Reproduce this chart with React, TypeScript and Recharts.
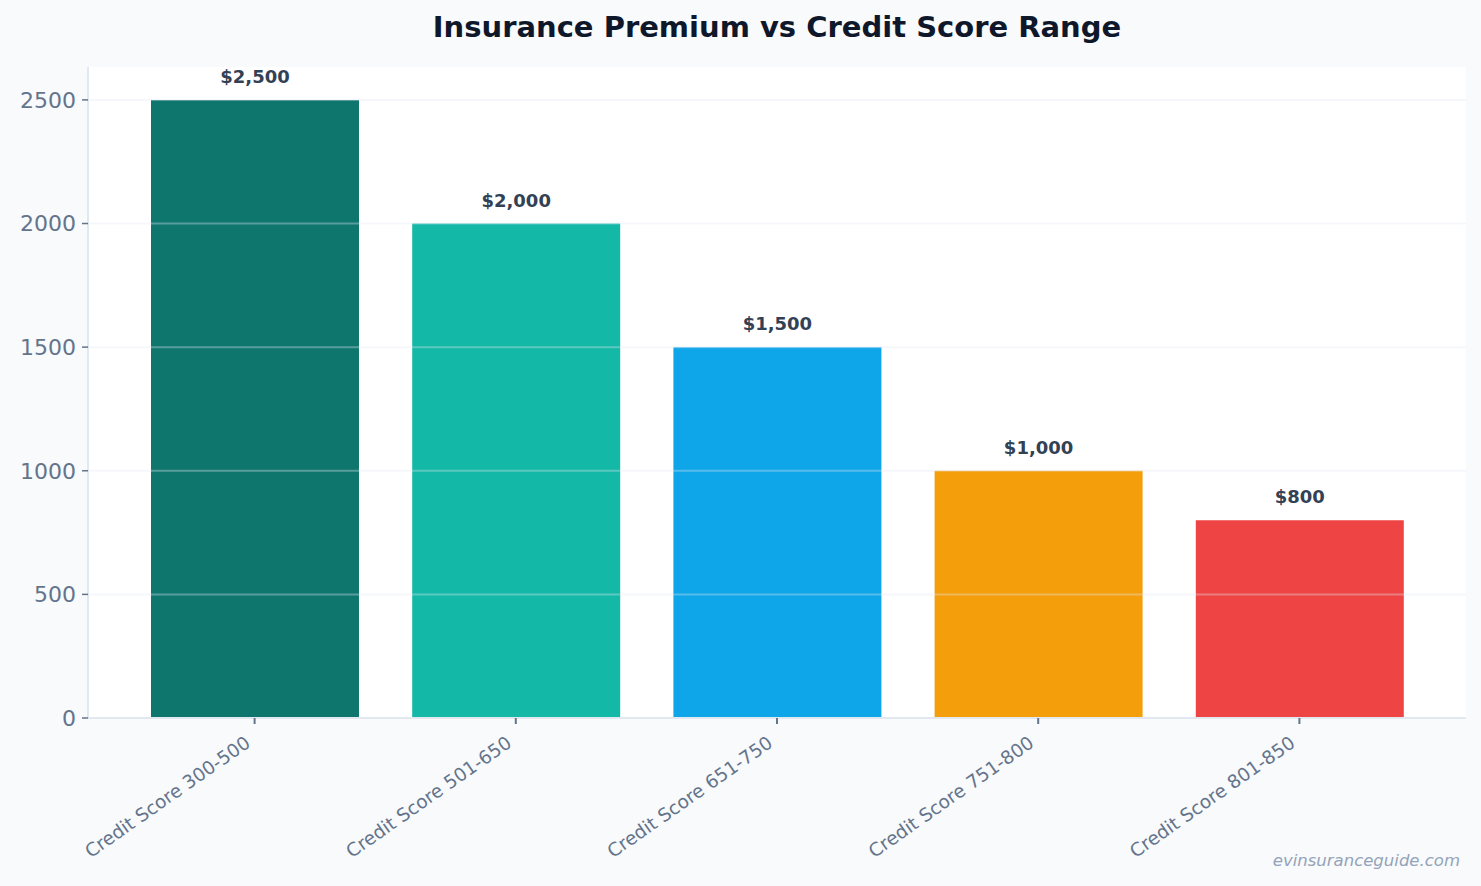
import { BarChart, Bar, XAxis, YAxis, CartesianGrid, Cell, LabelList, ReferenceLine } from 'recharts';

const CATEGORIES = [
  'Credit Score 300-500',
  'Credit Score 501-650',
  'Credit Score 651-750',
  'Credit Score 751-800',
  'Credit Score 801-850',
];
const PREMIUMS = [2500, 2000, 1500, 1000, 800];
const BAR_COLORS = ['#0f766e', '#14b8a6', '#0ea5e9', '#f59e0b', '#ef4444'];
const Y_TICKS = [0, 500, 1000, 1500, 2000, 2500];

const FONT = '"DejaVu Sans", Verdana, sans-serif';

const data = CATEGORIES.map((name, i) => ({ name, value: PREMIUMS[i] }));

const fmtMoney = (v: any) => '$' + Number(v).toLocaleString('en-US');

function XTick({ x, y, payload }: any) {
  return (
    <g transform={`translate(${x - 7},${y + 14})`}>
      <text
        textAnchor="end"
        transform="rotate(-35)"
        fontSize={18.5}
        fill="#64748b"
        fontFamily={FONT}
        dy={7}
      >
        {payload.value}
      </text>
    </g>
  );
}

export default function App() {
  return (
    <div style={{ width: 1481, height: 886, background: '#f8fafc', position: 'relative', fontFamily: FONT }}>
      <style>{`body{margin:0}`}</style>
      <div
        style={{
          position: 'absolute',
          left: 88,
          width: 1378,
          top: 9,
          textAlign: 'center',
          fontSize: 29,
          fontWeight: 'bold',
          color: '#0f172a',
          lineHeight: '36px',
        }}
      >
        Insurance Premium vs Credit Score Range
      </div>
      <BarChart
        width={1481}
        height={886}
        data={data}
        margin={{ top: 67, right: 15, bottom: 0, left: 0 }}
      >
        <CartesianGrid fill="#ffffff" stroke="none" />
        <XAxis
          dataKey="name"
          height={168}
          interval={0}
          padding={{ left: 36, right: 36 }}
          axisLine={{ stroke: '#e2e8f0', strokeWidth: 2 }}
          tickLine={{ stroke: '#64748b', strokeWidth: 2 }}
          tickSize={6}
          tick={<XTick />}
        />
        <YAxis
          width={88}
          domain={[0, 2633]}
          ticks={Y_TICKS}
          allowDataOverflow
          axisLine={{ stroke: '#e2e8f0', strokeWidth: 2 }}
          tickLine={{ stroke: '#64748b', strokeWidth: 1.5 }}
          tickSize={6}
          tickMargin={6}
          tick={{ fontSize: 22, fill: '#64748b', fontFamily: FONT }}
        />
        <Bar dataKey="value" barSize={208} isAnimationActive={false}>
          {data.map((_, i) => (
            <Cell key={i} fill={BAR_COLORS[i]} />
          ))}
          <LabelList
            dataKey="value"
            position="top"
            offset={17}
            formatter={fmtMoney}
            style={{ fontSize: 18, fontWeight: 'bold', fill: '#334155', fontFamily: FONT }}
          />
        </Bar>
        {Y_TICKS.slice(1).map((t) => (
          <ReferenceLine key={t} y={t} stroke="#e2e8f0" strokeOpacity={0.35} strokeWidth={2} />
        ))}
      </BarChart>
      <div
        style={{
          position: 'absolute',
          right: 21,
          top: 851,
          fontSize: 16.5,
          fontStyle: 'italic',
          color: '#94a3b8',
        }}
      >
        evinsuranceguide.com
      </div>
    </div>
  );
}
